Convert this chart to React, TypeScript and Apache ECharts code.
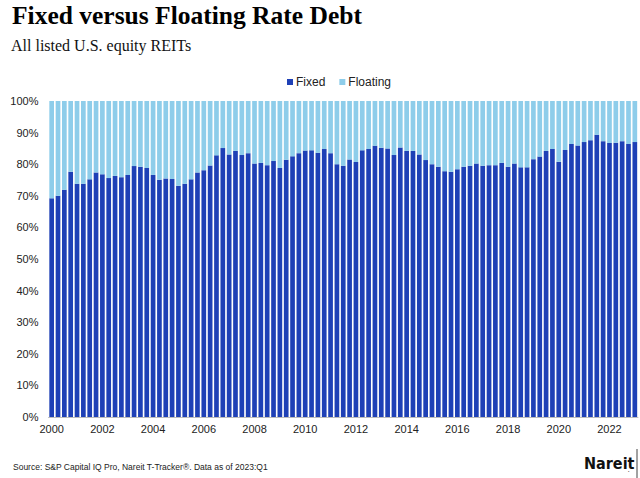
import React, { useEffect, useRef } from "react";
import * as echarts from "echarts";

const years = ["2000","2001","2002","2003","2004","2005","2006","2007","2008","2009","2010","2011","2012","2013","2014","2015","2016","2017","2018","2019","2020","2021","2022","2023"];
const quarters = ["Q1","Q2","Q3","Q4"];
const categories: string[] = [];
years.forEach((y) => quarters.forEach((q) => categories.push(y + " " + q)));
categories.length = 93;

const fixedShare = [
  69.2, 70.0, 71.9, 77.6, 73.8, 73.8, 75.2, 77.4, 76.8, 75.6,
  76.3, 75.9, 76.6, 79.4, 79.2, 78.8, 76.6, 75.1, 75.5, 75.3,
  73.2, 73.8, 75.2, 77.4, 78.1, 79.6, 82.8, 85.1, 83.1, 84.2,
  82.9, 83.5, 80.2, 80.4, 79.7, 81.0, 78.8, 81.4, 82.5, 83.5,
  84.3, 84.4, 83.6, 84.8, 83.5, 80.0, 79.5, 81.5, 80.7, 84.4,
  84.8, 85.8, 85.2, 85.0, 82.9, 85.3, 84.2, 84.2, 83.1, 81.3,
  80.0, 79.2, 77.8, 77.6, 78.4, 79.2, 79.5, 80.2, 79.5, 79.7,
  79.7, 80.4, 79.2, 80.2, 79.0, 79.0, 81.6, 82.4, 84.2, 84.8,
  80.8, 84.5, 86.4, 85.9, 87.0, 87.6, 89.3, 87.3, 86.7, 86.8,
  87.3, 86.4, 87.0,
];

const floatingShare = [
  30.8, 30.0, 28.1, 22.4, 26.2, 26.2, 24.8, 22.6, 23.2, 24.4,
  23.7, 24.1, 23.4, 20.6, 20.8, 21.2, 23.4, 24.9, 24.5, 24.7,
  26.8, 26.2, 24.8, 22.6, 21.9, 20.4, 17.2, 14.9, 16.9, 15.8,
  17.1, 16.5, 19.8, 19.6, 20.3, 19.0, 21.2, 18.6, 17.5, 16.5,
  15.7, 15.6, 16.4, 15.2, 16.5, 20.0, 20.5, 18.5, 19.3, 15.6,
  15.2, 14.2, 14.8, 15.0, 17.1, 14.7, 15.8, 15.8, 16.9, 18.7,
  20.0, 20.8, 22.2, 22.4, 21.6, 20.8, 20.5, 19.8, 20.5, 20.3,
  20.3, 19.6, 20.8, 19.8, 21.0, 21.0, 18.4, 17.6, 15.8, 15.2,
  19.2, 15.5, 13.6, 14.1, 13.0, 12.4, 10.7, 12.7, 13.3, 13.2,
  12.7, 13.6, 13.0,
];

const FIXED_COLOR = "#1E40B6";
const FLOAT_COLOR = "#8ECDEA";

export default function App() {
  const ref = useRef<HTMLDivElement>(null);
  useEffect(() => {
    if (!ref.current) return;
    const chart = echarts.init(ref.current, null, { renderer: "svg" });
    chart.setOption({
      animation: false,
      backgroundColor: "#ffffff",
      grid: { left: 48.5, right: 2, top: 101, bottom: 61, containLabel: false },
      legend: {
        left: 282,
        top: 71,
        itemWidth: 6,
        itemHeight: 6,
        itemGap: 14,
        icon: "rect",
        textStyle: { fontFamily: "Liberation Sans, Arial, sans-serif", fontSize: 12, color: "#222", padding: [0, 0, 0, -2] },
        data: ["Fixed", "Floating"],
      },
      xAxis: {
        type: "category",
        data: categories,
        boundaryGap: true,
        axisLine: { show: true, lineStyle: { color: "#BDBDBD", width: 1 } },
        axisTick: { show: false },
        axisLabel: {
          interval: 7,
          margin: 6,
          fontFamily: "Liberation Sans, Arial, sans-serif",
          fontSize: 11,
          color: "#222",
          formatter: (v: string) => v.slice(0, 4),
        },
      },
      yAxis: {
        type: "value",
        min: 0,
        max: 100,
        interval: 10,
        axisLine: { show: false },
        axisTick: { show: false },
        splitLine: { show: false },
        axisLabel: {
          formatter: "{value}%",
          margin: 10,
          fontFamily: "Liberation Sans, Arial, sans-serif",
          fontSize: 11,
          color: "#222",
        },
      },
      series: [
        {
          name: "Fixed",
          type: "bar",
          stack: "total",
          data: fixedShare,
          barCategoryGap: "26%",
          itemStyle: { color: FIXED_COLOR },
        },
        {
          name: "Floating",
          type: "bar",
          stack: "total",
          data: floatingShare,
          barCategoryGap: "26%",
          itemStyle: { color: FLOAT_COLOR },
        },
      ],
      graphic: [
        {
          type: "text",
          left: 12,
          top: 2,
          style: {
            text: "Fixed versus Floating Rate Debt",
            font: "bold 25.5px 'Liberation Serif', 'Times New Roman', serif",
            fill: "#000",
          },
        },
        {
          type: "text",
          left: 11,
          top: 37,
          style: {
            text: "All listed U.S. equity REITs",
            font: "16px 'Liberation Serif', 'Times New Roman', serif",
            fill: "#111",
          },
        },
        {
          type: "text",
          left: 13,
          top: 462,
          style: {
            text: "Source: S&P Capital IQ Pro, Nareit T-Tracker®. Data as of 2023:Q1",
            font: "8.5px 'Liberation Sans', Arial, sans-serif",
            fill: "#222",
          },
        },
        {
          type: "text",
          left: 584,
          top: 455,
          style: {
            text: "Nareit",
            font: "bold 16px 'DejaVu Sans Condensed', 'Liberation Sans Narrow', sans-serif",
            fill: "#111",
          },
        },
        {
          type: "text",
          left: 628,
          top: 467,
          style: {
            text: ".",
            font: "bold 5px 'Liberation Sans', sans-serif",
            fill: "#111",
          },
        },
        {
          type: "line",
          shape: { x1: 637, y1: 449, x2: 637, y2: 478 },
          style: { stroke: "#444", lineWidth: 1 },
        },
      ],
    });
    return () => chart.dispose();
  }, []);
  return (
    <div
      ref={ref}
      style={{ position: "fixed", left: 0, top: 0, width: 640, height: 478, background: "#fff" }}
    />
  );
}
